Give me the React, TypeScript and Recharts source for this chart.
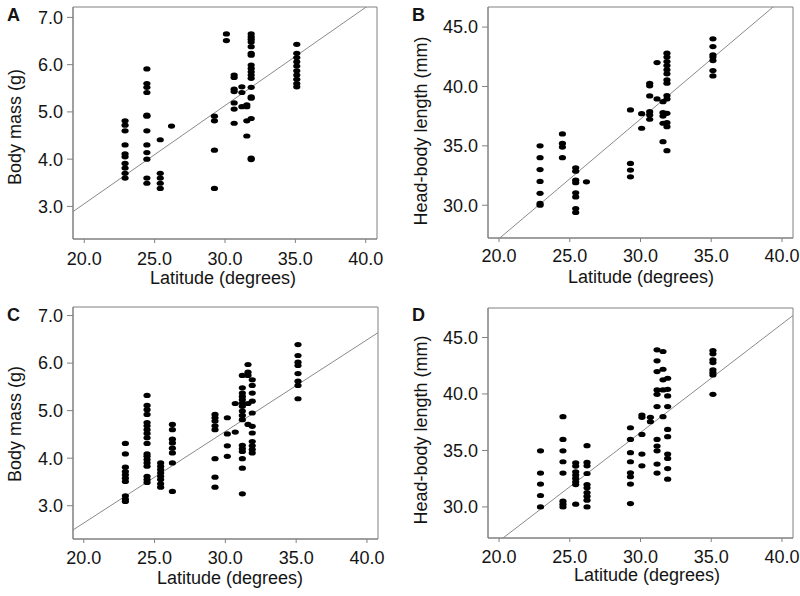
import React from 'react';
import {
  ScatterChart,
  Scatter,
  XAxis,
  YAxis,
  ReferenceLine,
  ReferenceArea,
  Label,
} from 'recharts';

// columns of points: [latitude, values at that latitude]
type Column = [number, number[]];

const latitudeTicks = [20, 25, 30, 35, 40];
const massTicks = [3, 4, 5, 6, 7];
const lengthTicks = [30, 35, 40, 45];

const massA: Column[] = [
  [22.9, [4.81, 4.72, 4.6, 4.3, 4.11, 4.05, 3.91, 3.81, 3.7, 3.6]],
  [24.45, [5.91, 5.6, 5.52, 5.41, 4.93, 4.91, 4.6, 4.3, 4.14, 4.0, 3.6, 3.49]],
  [25.4, [4.41, 3.7, 3.6, 3.49, 3.38]],
  [26.2, [4.7]],
  [29.25, [4.91, 4.81, 4.19, 3.38]],
  [30.1, [6.65, 6.51]],
  [30.65, [5.78, 5.73, 5.48, 5.43, 5.19, 5.06, 4.76]],
  [31.2, [5.53, 5.41, 5.11]],
  [31.55, [5.15, 5.11, 4.81, 4.49]],
  [31.86, [6.65, 6.59, 6.54, 6.48, 6.38, 6.24, 6.2, 5.99, 5.92, 5.85, 5.78, 5.71, 5.52, 5.32, 5.29, 4.86, 4.02, 3.99]],
  [35.1, [6.43, 6.24, 6.15, 6.06, 5.97, 5.87, 5.78, 5.69, 5.6, 5.53]],
];

const lengthB: Column[] = [
  [22.9, [35.0, 34.0, 33.0, 32.0, 31.0, 30.15, 30.0]],
  [24.48, [36.0, 35.2, 34.9, 34.0]],
  [25.42, [33.15, 32.87, 32.11, 31.89, 31.04, 30.7, 29.72, 29.39]],
  [26.18, [31.97]],
  [29.29, [38.02, 33.52, 32.96, 32.39]],
  [30.08, [37.71, 36.48]],
  [30.65, [40.27, 40.05, 39.2, 37.88, 37.6, 37.24]],
  [31.17, [42.01, 38.95]],
  [31.59, [38.72, 37.79, 37.51, 36.9, 35.35]],
  [31.87, [42.8, 42.47, 42.1, 41.76, 41.4, 41.06, 40.55, 40.27, 39.23, 38.95, 37.74, 36.95, 36.61, 34.59]],
  [35.12, [44.01, 43.36, 42.66, 42.47, 42.18, 41.34, 40.89]],
];

const massC: Column[] = [
  [22.94, [4.31, 4.09, 3.81, 3.72, 3.65, 3.58, 3.51, 3.21, 3.14, 3.09]],
  [24.47, [5.32, 5.11, 5.02, 4.92, 4.75, 4.68, 4.6, 4.52, 4.43, 4.31, 4.09, 4.04, 3.97, 3.9, 3.83, 3.62, 3.55, 3.49]],
  [25.43, [3.9, 3.83, 3.76, 3.69, 3.62, 3.55, 3.46, 3.39]],
  [26.26, [4.71, 4.6, 4.4, 4.32, 4.21, 4.11, 3.9, 3.3]],
  [29.27, [4.92, 4.85, 4.78, 4.68, 4.6, 3.99, 3.6, 3.39]],
  [30.14, [4.85, 4.51, 4.26, 4.04]],
  [30.7, [5.15, 4.55]],
  [31.2, [5.74, 5.48, 5.37, 5.3, 5.23, 5.16, 5.09, 4.99, 4.9, 4.81, 4.27, 4.2, 4.14, 3.99, 3.79, 3.25]],
  [31.6, [5.97, 5.81, 5.74, 5.15, 4.71]],
  [31.9, [5.65, 5.53, 5.37, 5.2, 4.95, 4.67, 4.53, 4.35, 4.26, 4.18, 4.11]],
  [35.13, [6.39, 6.16, 6.02, 5.95, 5.78, 5.62, 5.53, 5.25]],
];

const lengthD: Column[] = [
  [22.93, [34.97, 33.0, 32.02, 31.01, 30.0]],
  [24.52, [37.99, 35.98, 34.97, 34.0, 33.0, 30.51, 30.24, 30.0]],
  [25.42, [33.91, 33.62, 33.11, 32.82, 32.52, 32.22, 31.98, 30.24]],
  [26.22, [35.42, 33.94, 33.64, 32.96, 31.98, 31.69, 31.27, 30.95, 30.6, 30.0]],
  [29.29, [37.01, 35.98, 34.8, 34.0, 33.02, 32.67, 32.02, 30.3]],
  [30.1, [38.14, 37.93, 36.42, 34.68, 33.64]],
  [30.7, [37.93, 37.55]],
  [31.17, [43.91, 42.93, 41.98, 40.36, 39.97, 38.88, 35.98, 35.39, 34.97, 33.79, 33.0]],
  [31.59, [43.76, 42.19, 41.25, 40.36, 37.99]],
  [31.92, [41.39, 40.41, 39.83, 38.88, 36.86, 36.22, 34.68, 34.29, 33.4, 32.46]],
  [35.12, [43.85, 43.55, 43.02, 42.78, 42.13, 41.89, 41.69, 39.97]],
];

// regression line end points [lat, value]
const fitA: [number, number][] = [[19.2, 2.89], [40.8, 7.38]];
const fitB: [number, number][] = [[19.22, 26.4], [40.78, 48.11]];
const fitC: [number, number][] = [[19.24, 2.49], [40.78, 6.64]];
const fitD: [number, number][] = [[19.22, 26.23], [40.78, 46.95]];

const FONT = '"Liberation Sans", Arial, Helvetica, sans-serif';
const GREY = '#808080';
const INK = '#141414';
const FS = 18;

const toPoints = (cols: Column[]) =>
  cols.flatMap(([lat, vals]) => vals.map((v) => ({ lat, v })));

const Dot = (p: any) => <ellipse cx={p.cx} cy={p.cy} rx={3.6} ry={2.6} fill="#000" />;

interface PanelProps {
  letter: string;
  cols: Column[];
  fit: [number, number][];
  yLabel: string;
  yTicks: number[];
  xDomain: [number, number];
  yDomain: [number, number];
  left: number;
  top: number;
  width: number;
  height: number;
  margin: { top: number; right: number };
  yWidth: number;
  xHeight: number;
  yLabelPos: [number, number]; // centre of rotated label
  xLabelPos: [number, number]; // centre x, baseline y
  xTickMargin: number;
  letterPos: [number, number];
}

const Panel: React.FC<PanelProps> = (p) => {
  const data = toPoints(p.cols);
  const tickStyle = { fill: INK, fontSize: FS, fontFamily: FONT };
  return (
    <div style={{ position: 'absolute', left: p.left, top: p.top }}>
      <ScatterChart
        width={p.width}
        height={p.height}
        margin={{ top: p.margin.top, right: p.margin.right, left: 0, bottom: 0 }}
        style={{ fontFamily: FONT }}
      >
        <XAxis
          type="number"
          dataKey="lat"
          domain={p.xDomain}
          allowDataOverflow
          ticks={latitudeTicks}
          tickFormatter={(v: number) => v.toFixed(1)}
          height={p.xHeight}
          tickSize={4}
          tickMargin={p.xTickMargin}
          stroke={GREY}
          tick={tickStyle}
        >
          <Label
            content={() => (
              <text
                x={p.xLabelPos[0]}
                y={p.xLabelPos[1]}
                textAnchor="middle"
                fill={INK}
                fontSize={FS}
                fontFamily={FONT}
              >
                Latitude (degrees)
              </text>
            )}
          />
        </XAxis>
        <YAxis
          type="number"
          dataKey="v"
          domain={p.yDomain}
          allowDataOverflow
          ticks={p.yTicks}
          tickFormatter={(v: number) => v.toFixed(1)}
          width={p.yWidth}
          tickSize={6}
          tickMargin={4}
          stroke={GREY}
          tick={tickStyle}
        >
          <Label
            content={() => (
              <text
                x={p.yLabelPos[0]}
                y={p.yLabelPos[1]}
                transform={`rotate(-90, ${p.yLabelPos[0]}, ${p.yLabelPos[1]})`}
                textAnchor="middle"
                dominantBaseline="central"
                fill={INK}
                fontSize={FS}
                fontFamily={FONT}
              >
                {p.yLabel}
              </text>
            )}
          />
        </YAxis>
        <ReferenceArea
          x1={p.xDomain[0]}
          x2={p.xDomain[1]}
          y1={p.yDomain[0]}
          y2={p.yDomain[1]}
          fill="none"
          stroke={GREY}
          strokeWidth={1}
          ifOverflow="visible"
        />
        <ReferenceLine
          segment={p.fit.map(([x, y]) => ({ x, y }))}
          stroke="#8a8a8a"
          strokeWidth={1}
          ifOverflow="hidden"
        />
        <Scatter data={data} shape={Dot} isAnimationActive={false} />
      </ScatterChart>
      <div
        style={{
          position: 'absolute',
          left: p.letterPos[0],
          top: p.letterPos[1],
          fontFamily: FONT,
          fontWeight: 'bold',
          fontSize: 18,
          lineHeight: 1,
          color: INK,
        }}
      >
        {p.letter}
      </div>
    </div>
  );
};

export default function App() {
  return (
    <div style={{ position: 'absolute', left: 0, top: 0, width: 800, height: 596, background: '#fff', overflow: 'hidden' }}>
      <Panel
        letter="A"
        cols={massA}
        fit={fitA}
        yLabel="Body mass (g)"
        yTicks={massTicks}
        xDomain={[19.2, 40.8]}
        yDomain={[2.31, 7.22]}
        left={0}
        top={0}
        width={400}
        height={296}
        margin={{ top: 7, right: 23 }}
        yWidth={73}
        xHeight={57}
        yLabelPos={[15, 127]}
        xLabelPos={[223, 284]}
        xTickMargin={9}
        letterPos={[7, 6]}
      />
      <Panel
        letter="B"
        cols={lengthB}
        fit={fitB}
        yLabel="Head-body length (mm)"
        yTicks={lengthTicks}
        xDomain={[19.22, 40.78]}
        yDomain={[27.24, 46.69]}
        left={400}
        top={0}
        width={400}
        height={296}
        margin={{ top: 7, right: 7 }}
        yWidth={88}
        xHeight={58}
        yLabelPos={[21, 131]}
        xLabelPos={[241, 283]}
        xTickMargin={7}
        letterPos={[12, 6]}
      />
      <Panel
        letter="C"
        cols={massC}
        fit={fitC}
        yLabel="Body mass (g)"
        yTicks={massTicks}
        xDomain={[19.24, 40.78]}
        yDomain={[2.3, 7.18]}
        left={0}
        top={296}
        width={400}
        height={300}
        margin={{ top: 11, right: 22 }}
        yWidth={73}
        xHeight={57}
        yLabelPos={[15, 128]}
        xLabelPos={[230, 288]}
        xTickMargin={8}
        letterPos={[7, 10]}
      />
      <Panel
        letter="D"
        cols={lengthD}
        fit={fitD}
        yLabel="Head-body length (mm)"
        yTicks={lengthTicks}
        xDomain={[19.22, 40.78]}
        yDomain={[27.25, 47.61]}
        left={400}
        top={296}
        width={400}
        height={300}
        margin={{ top: 12, right: 7 }}
        yWidth={88}
        xHeight={58}
        yLabelPos={[21, 134]}
        xLabelPos={[247, 285]}
        xTickMargin={8}
        letterPos={[12, 10]}
      />
    </div>
  );
}
